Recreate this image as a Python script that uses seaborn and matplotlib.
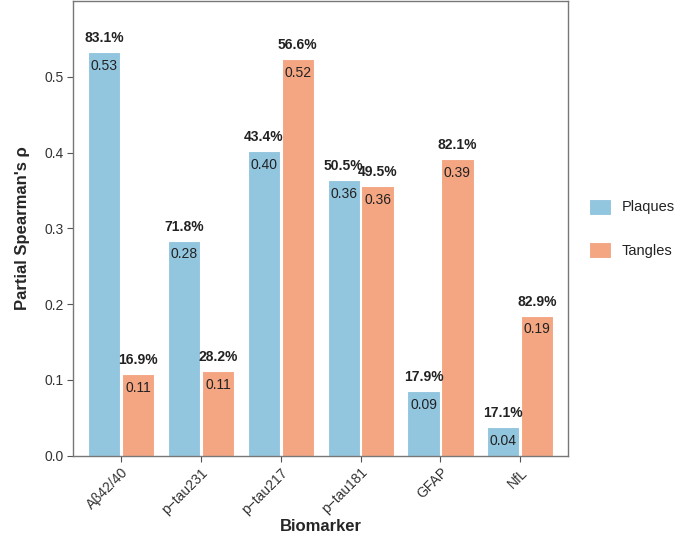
import matplotlib
matplotlib.use("Agg")
import matplotlib.pyplot as plt
import seaborn as sns
import pandas as pd
import numpy as np

biomarkers = ["Aβ42/40", "p\u2212tau231", "p\u2212tau217", "p\u2212tau181", "GFAP", "NfL"]
plaques = [0.533, 0.284, 0.402, 0.364, 0.085, 0.038]
tangles = [0.108, 0.112, 0.523, 0.356, 0.391, 0.185]
plaques_lbl = ["0.53", "0.28", "0.40", "0.36", "0.09", "0.04"]
tangles_lbl = ["0.11", "0.11", "0.52", "0.36", "0.39", "0.19"]
plaques_pct = ["83.1%", "71.8%", "43.4%", "50.5%", "17.9%", "17.1%"]
tangles_pct = ["16.9%", "28.2%", "56.6%", "49.5%", "82.1%", "82.9%"]
groups = ["Plaques", "Tangles"]
colors = {"Plaques": "#92C5DE", "Tangles": "#F4A582"}

df = pd.DataFrame({
    "Biomarker": biomarkers * 2,
    "rho": plaques + tangles,
    "Group": ["Plaques"] * 6 + ["Tangles"] * 6,
    "lbl": plaques_lbl + tangles_lbl,
    "pct": plaques_pct + tangles_pct,
})

sns.set_style("white")
plt.rcParams["font.family"] = ["Liberation Sans", "DejaVu Sans"]

fig = plt.figure(figsize=(6.78, 5.33), dpi=100)
ax = fig.add_axes([0.108, 0.145, 0.730, 0.853])

sns.barplot(data=df, x="Biomarker", y="rho", hue="Group", hue_order=groups,
            order=biomarkers, palette=colors, width=0.85, gap=0.05,
            edgecolor="white", linewidth=0.8, saturation=1, ax=ax, errorbar=None)

for cont, g in zip(ax.containers, groups):
    sub = df[df["Group"] == g].set_index("Biomarker").loc[biomarkers]
    for bar, lbl, pct in zip(cont, sub["lbl"], sub["pct"]):
        x = bar.get_x() + bar.get_width() / 2
        h = bar.get_height()
        ax.annotate(lbl, (x, h), xytext=(0, -5), textcoords="offset points",
                    ha="center", va="top", fontsize=10, color="#222222")
        ax.annotate(pct, (x, h), xytext=(0, 5), textcoords="offset points",
                    ha="center", va="bottom", fontsize=10, fontweight="bold",
                    color="#222222")

ax.set_xlim(-0.6, 5.6)
ax.set_ylim(0, 0.6)
ax.set_yticks([0.0, 0.1, 0.2, 0.3, 0.4, 0.5])
ax.set_yticklabels(["0.0", "0.1", "0.2", "0.3", "0.4", "0.5"])
ax.tick_params(axis="both", which="both", length=4, width=0.8, color="#555555",
               labelsize=10, labelcolor="#333333", left=True, bottom=True, pad=3)
plt.setp(ax.get_xticklabels(), rotation=45, ha="right", rotation_mode="anchor")
ax.set_xlabel("Biomarker", fontsize=12, fontweight="bold", labelpad=2)
ax.set_ylabel("Partial Spearman's ρ", fontsize=12, fontweight="bold", labelpad=10)
for s in ax.spines.values():
    s.set_visible(True)
    s.set_color("#777777")
    s.set_linewidth(1.0)

leg = ax.legend(title=None, loc="center left", bbox_to_anchor=(1.042, 0.5),
                frameon=False, fontsize=10.5, handlelength=1.5, handleheight=1.3,
                labelspacing=1.9, handletextpad=0.75, borderpad=0, borderaxespad=0)
for t in leg.get_texts():
    t.set_color("#222222")

fig.savefig("out.png", dpi=100)
